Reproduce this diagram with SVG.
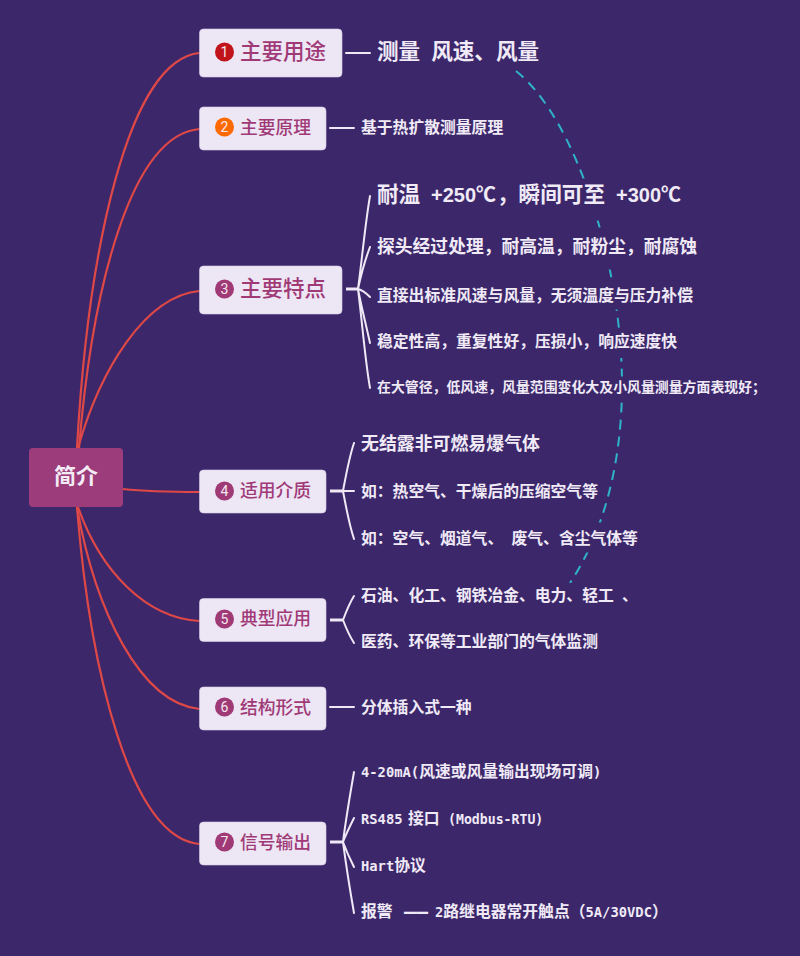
<svg xmlns="http://www.w3.org/2000/svg" width="800" height="956" viewBox="0 0 800 956">
<style>
.bg{fill:#3c276b}
.n{fill:#ede6f5;stroke:#d9cfe8;stroke-width:.6}
.t{fill:#a03a77;font-family:"Noto Sans CJK SC","Noto Sans",sans-serif;font-weight:500}
.i{fill:#a03a77}
.d{fill:#f5e6f0;font-family:"Roboto",sans-serif;font-size:14px;text-anchor:middle}
.l{fill:#f0eaf6;font-family:"DejaVu Sans Mono","Noto Sans CJK SC",monospace;font-weight:700;font-size:15.8px}
.m{font-size:13.8px}
.m2{font-size:13.2px}
.s{font-family:"Liberation Sans","Noto Sans CJK SC",sans-serif;font-size:21.6px;word-spacing:5px}
.s2{font-size:20px}
.b{fill:#3c276b}
.r{fill:none;stroke:#de4846;stroke-width:2.2}
.w{fill:none;stroke:#efe8f5;stroke-width:2;stroke-linecap:round}
.st{stroke-width:3;stroke-linecap:butt}
.da{fill:none;stroke:#2fb3c9;stroke-width:2;stroke-dasharray:10 7}
</style>
<rect class="bg" width="800" height="956"/>
<g id="connectors">
<path class="r" d="M77 448C88 250 128 60 199.500 53"/>
<path class="r" d="M79 448C92 290 130 135 199.500 129"/>
<path class="r" d="M78 448C100 370 145 296 199.500 291"/>
<path class="r" d="M123 489C150 492 175 492 199.500 492"/>
<path class="r" d="M78 507C100 570 145 618 199.500 621"/>
<path class="r" d="M77 507C95 610 140 703 199.500 709"/>
<path class="r" d="M77 507C90 670 130 838 199.500 844"/>
<path class="da" d="M516 71C575 118 622 262 622 385C622 460 605 530 570 583"/>
<path class="w" d="M346 53H370M330 128H354M330 707H354"/>
<path class="w st" d="M346 289H359M330 491H343M330 620H343M330 842H343"/>
<path class="w" d="M358 289C362 260 365 225 370 196M358 289C361 275 365 260 370 247M358 289C362 290 366 293 370 297M358 289C361 305 366 325 370 343M358 289C362 320 365 360 370 388"/>
<path class="w" d="M343 491C346 475 349 458 354 443M343 491H354M343 491C346 507 349 524 354 539"/>
<path class="w" d="M343 620C346 612 349 604 354 596M343 620C346 628 349 635 354 643"/>
<path class="w" d="M343 842C346 818 350 795 354 772M343 842C346 834 350 826 354 818M343 842C346 850 350 859 354 867M343 842C346 865 350 890 354 913"/>
</g>
<g id="root"><rect x="29" y="448" width="94" height="59" rx="4" fill="#9c3c7a"/><text x="76" y="484" text-anchor="middle" font-family="Noto Sans CJK SC,sans-serif" font-weight="700" font-size="22" fill="#f3ebf5">简介</text></g>
<g id="n1"><rect class="n" x="199.500" y="29" width="142.500" height="48" rx="4"/><circle cx="224.500" cy="52" r="9.500" fill="#c0141a"/><text class="d" x="224.500" y="57">1</text><text class="t" x="240" y="59" font-size="21.500">主要用途</text></g>
<g id="n2"><rect class="n" x="199.500" y="107" width="126.500" height="43" rx="4"/><circle cx="224.500" cy="127" r="9.500" fill="#ff6a00"/><text class="d" x="224.500" y="132">2</text><text class="t" x="240" y="134" font-size="17.800">主要原理</text></g>
<g id="n3"><rect class="n" x="199.500" y="266" width="142.500" height="48" rx="4"/><circle class="i" cx="224.500" cy="289" r="9.500"/><text class="d" x="224.500" y="294">3</text><text class="t" x="240" y="296" font-size="21.500">主要特点</text></g>
<g id="n4"><rect class="n" x="199.500" y="470" width="126.500" height="43" rx="4"/><circle class="i" cx="224.500" cy="491" r="9.500"/><text class="d" x="224.500" y="496">4</text><text class="t" x="240" y="497" font-size="17.800">适用介质</text></g>
<g id="n5"><rect class="n" x="199.500" y="598.500" width="126.500" height="43" rx="4"/><circle class="i" cx="224.500" cy="619" r="9.500"/><text class="d" x="224.500" y="624">5</text><text class="t" x="240" y="625" font-size="17.800">典型应用</text></g>
<g id="n6"><rect class="n" x="199.500" y="687" width="126.500" height="43" rx="4"/><circle class="i" cx="224.500" cy="707" r="9.500"/><text class="d" x="224.500" y="712">6</text><text class="t" x="240" y="714" font-size="17.800">结构形式</text></g>
<g id="n7"><rect class="n" x="199.500" y="822" width="126.500" height="43" rx="4"/><circle class="i" cx="224.500" cy="842" r="9.500"/><text class="d" x="224.500" y="847">7</text><text class="t" x="240" y="849" font-size="17.800">信号输出</text></g>
<g id="l1"><text class="l s" x="377" y="58.500">测量 风速、风量</text></g>
<g id="l2"><text class="l" x="361" y="132.500">基于热扩散测量原理</text></g>
<g id="l3a"><rect class="b" x="373" y="178.500" width="314" height="42"/><text class="l s" x="377" y="201.500">耐温<tspan x="431" class="s2">+250℃</tspan><tspan x="497">，瞬间可至</tspan><tspan x="616" class="s2">+300℃</tspan></text></g>
<g id="l3b"><rect class="b" x="373" y="229.500" width="328" height="40"/><text class="l" style="font-size:17.800px" x="377" y="253">探头经过处理，耐高温，耐粉尘，耐腐蚀</text></g>
<g id="l3c"><rect class="b" x="373" y="280.500" width="324" height="29"/><text class="l" x="377" y="300.500">直接出标准风速与风量，无须温度与压力补偿</text></g>
<g id="l3d"><rect class="b" x="373" y="328" width="308" height="30"/><text class="l" x="377" y="346.500">稳定性高，重复性好，压损小，响应速度快</text></g>
<g id="l3e"><rect class="b" x="373" y="376.500" width="390" height="24"/><text class="l" style="font-size:13.900px" x="377" y="392">在大管径，低风速，风量范围变化大及小风量测量方面表现好；</text></g>
<g id="l4a"><text class="l" style="font-size:17.900px" x="361" y="449.500">无结露非可燃易爆气体</text></g>
<g id="l4b"><text class="l" x="361" y="496.500">如：热空气、干燥后的压缩空气等</text></g>
<g id="l4c"><rect class="b" x="357" y="522.500" width="284" height="30"/><text class="l" x="361" y="543.500">如：空气、烟道气、<tspan class="m"> </tspan>废气、含尘气体等</text></g>
<g id="l5a"><rect class="b" x="357" y="583" width="276" height="24"/><text class="l" x="361" y="600.500">石油、化工、钢铁冶金、电力、轻工<tspan class="m"> </tspan>、</text></g>
<g id="l5b"><text class="l" x="361" y="646.500">医药、环保等工业部门的气体监测</text></g>
<g id="l6"><text class="l" x="361" y="712.500">分体插入式一种</text></g>
<g id="l7a"><text class="l" x="361" y="776.500"><tspan class="m">4-20mA(</tspan>风速或风量输出现场可调<tspan class="m">)</tspan></text></g>
<g id="l7b"><text class="l" x="361" y="823.500"><tspan class="m">RS485</tspan><tspan x="408">接口</tspan><tspan x="448" class="m2">(Modbus-RTU)</tspan></text></g>
<g id="l7c"><text class="l" x="361" y="870.500"><tspan class="m">Hart</tspan>协议</text></g>
<g id="l7d"><text class="l" x="361" y="916.500">报警<tspan x="404" dy="1.500" style="font-size:20px">——</tspan><tspan x="435" dy="-1.500" class="m">2</tspan>路继电器常开触点（<tspan class="m">5A/30VDC</tspan>）</text></g>
</svg>
